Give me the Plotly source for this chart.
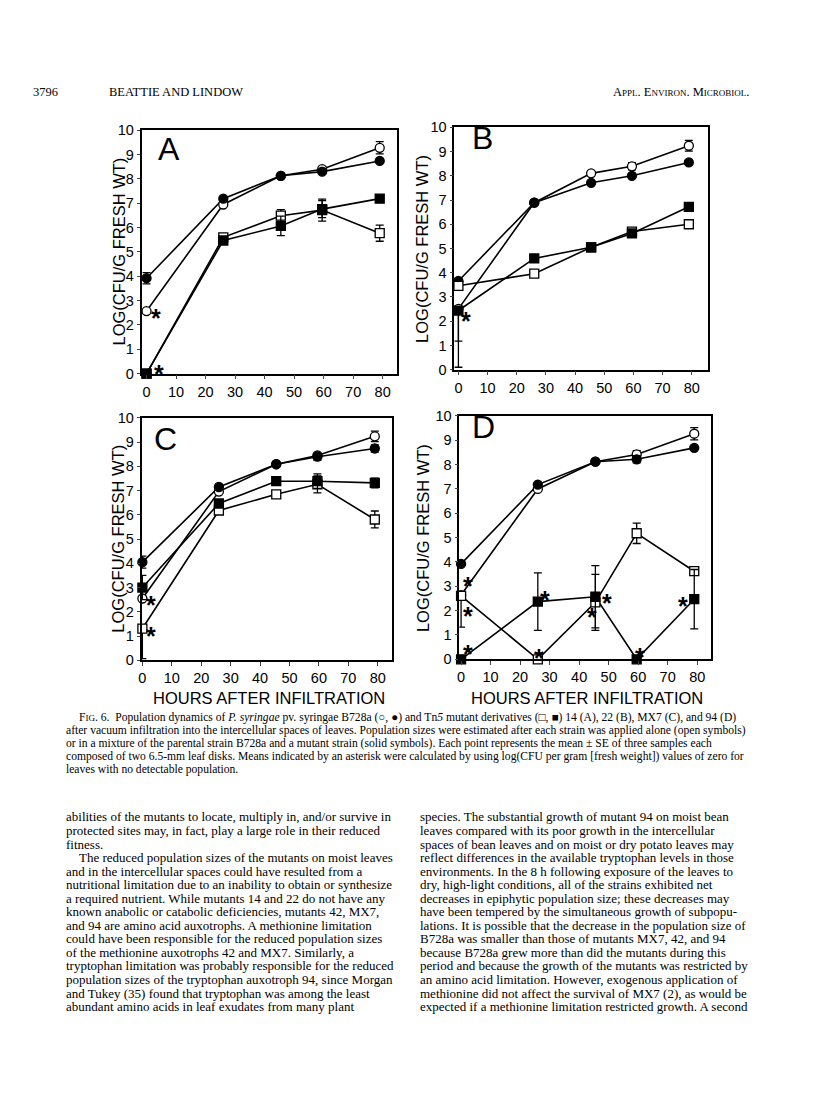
import plotly.graph_objects as go

PAGE_W, PAGE_H = 816, 1093
BODY_MARGIN = 8  # browser default body margin around the plot div
W, H = PAGE_W - 2 * BODY_MARGIN, PAGE_H - 2 * BODY_MARGIN

# ---------------- data ----------------
hours = [0, 26, 45.5, 59.5, 79]
x_ticks = [0, 10, 20, 30, 40, 50, 60, 70, 80]
y_ticks = [0, 1, 2, 3, 4, 5, 6, 7, 8, 9, 10]
panel_letters = ["A", "B", "C", "D"]

# Panel A (mutant 14)
A_b728a_alone = [2.57, 6.95, 8.13, 8.40, 9.28]
A_b728a_mixed = [3.92, 7.19, 8.13, 8.30, 8.74]
A_mutant_alone = [0.0, 5.60, 6.49, 6.72, 5.77]
A_mutant_mixed = [0.0, 5.47, 6.07, 6.76, 7.19]
A_err_b728a_alone = [0, 0, 0, 0.10, 0.25]
A_err_b728a_mixed = [0.23, 0, 0, 0, 0]
A_err_mutant_alone = [0, 0, 0.25, 0.45, 0.33]
A_err_mutant_mixed = [0, 0, 0.40, 0.35, 0]

# Panel B (mutant 22)
B_b728a_alone = [2.51, 6.89, 8.10, 8.39, 9.24]
B_b728a_mixed = [3.66, 6.89, 7.71, 8.00, 8.55]
B_mutant_alone = [3.46, 3.96, 5.05, 5.70, 6.00]
B_mutant_mixed = [2.44, 4.59, 5.05, 5.62, 6.72]
B_err_b728a_alone = [0, 0, 0, 0.15, 0.22]
B_errdn_b728a_alone = [1.33, 0, 0, 0.15, 0.22]
B_err_b728a_mixed = [0, 0, 0, 0, 0]
B_err_mutant_alone = [0, 0, 0, 0, 0]
B_err_mutant_mixed = [0, 0, 0, 0, 0.15]
B_errdn_mutant_mixed = [2.34, 0, 0, 0, 0.15]

# Panel C (mutant MX7)
C_b728a_alone = [2.55, 6.96, 8.09, 8.45, 9.24]
C_b728a_mixed = [4.05, 7.15, 8.09, 8.40, 8.74]
C_mutant_alone = [1.31, 6.18, 6.85, 7.26, 5.81]
C_mutant_mixed = [3.00, 6.47, 7.39, 7.39, 7.32]
C_err_b728a_alone = [0, 0, 0, 0, 0.22]
C_err_b728a_mixed = [0.25, 0, 0, 0.15, 0.15]
C_err_mutant_alone = [0, 0, 0, 0.35, 0.35]
C_errdn_mutant_alone = [1.24, 0, 0, 0.35, 0.35]
C_err_mutant_mixed = [0.50, 0, 0, 0.30, 0.20]

# Panel D (mutant 94)
D_b728a_alone = [2.64, 7.00, 8.12, 8.42, 9.27]
D_b728a_mixed = [3.92, 7.18, 8.12, 8.22, 8.69]
D_mutant_alone = [2.61, 0.0, 2.34, 5.18, 3.62]
D_mutant_mixed = [0.0, 2.37, 2.57, 0.0, 2.47]
D_err_b728a_alone = [0, 0, 0, 0.15, 0.25]
D_err_b728a_mixed = [0, 0, 0, 0.15, 0]
D_err_mutant_alone = [0, 0, 1.15, 0.42, 0]
D_errdn_mutant_alone = [1.29, 0, 1.15, 0.42, 0]
D_err_mutant_mixed = [0, 1.18, 1.28, 0, 1.22]

# Means computed with zero values (asterisks): (series, point index)
A_stars = [("b728a_alone", 0), ("mutant_mixed", 0)]
B_stars = [("mutant_mixed", 0)]
C_stars = [("b728a_alone", 0), ("mutant_alone", 0)]
D_stars = [("b728a_alone", 0), ("mutant_alone", 0), ("mutant_mixed", 0),
           ("mutant_mixed", 1), ("mutant_alone", 1), ("mutant_alone", 2),
           ("mutant_mixed", 2), ("mutant_mixed", 3), ("mutant_mixed", 4)]

y_title = "LOG(CFU/G FRESH WT)"
x_title = "HOURS AFTER INFILTRATION"

header_left_num = "3796"
header_left = "BEATTIE AND LINDOW"
header_right = ("A<span style='font-size:9px'>PPL</span>. E<span style='font-size:9px'>NVIRON</span>. "
                "M<span style='font-size:9px'>ICROBIOL</span>.")

caption_lines = [
    "F<span style='font-size:9px'>IG</span>. 6.  Population dynamics of <i>P. syringae</i> pv. syringae B728a (○, ●) and Tn<i>5</i> mutant derivatives (□, ■) 14 (A), 22 (B), MX7 (C), and 94 (D)",
    "after vacuum infiltration into the intercellular spaces of leaves. Population sizes were estimated after each strain was applied alone (open symbols)",
    "or in a mixture of the parental strain B728a and a mutant strain (solid symbols). Each point represents the mean ± SE of three samples each",
    "composed of two 6.5-mm leaf disks. Means indicated by an asterisk were calculated by using log(CFU per gram [fresh weight]) values of zero for",
    "leaves with no detectable population.",
]

left_col = [
    "abilities of the mutants to locate, multiply in, and/or survive in",
    "protected sites may, in fact, play a large role in their reduced",
    "fitness.",
    "The reduced population sizes of the mutants on moist leaves",
    "and in the intercellular spaces could have resulted from a",
    "nutritional limitation due to an inability to obtain or synthesize",
    "a required nutrient. While mutants 14 and 22 do not have any",
    "known anabolic or catabolic deficiencies, mutants 42, MX7,",
    "and 94 are amino acid auxotrophs. A methionine limitation",
    "could have been responsible for the reduced population sizes",
    "of the methionine auxotrophs 42 and MX7. Similarly, a",
    "tryptophan limitation was probably responsible for the reduced",
    "population sizes of the tryptophan auxotroph 94, since Morgan",
    "and Tukey (35) found that tryptophan was among the least",
    "abundant amino acids in leaf exudates from many plant",
]
right_col = [
    "species. The substantial growth of mutant 94 on moist bean",
    "leaves compared with its poor growth in the intercellular",
    "spaces of bean leaves and on moist or dry potato leaves may",
    "reflect differences in the available tryptophan levels in those",
    "environments. In the 8 h following exposure of the leaves to",
    "dry, high-light conditions, all of the strains exhibited net",
    "decreases in epiphytic population size; these decreases may",
    "have been tempered by the simultaneous growth of subpopu-",
    "lations. It is possible that the decrease in the population size of",
    "B728a was smaller than those of mutants MX7, 42, and 94",
    "because B728a grew more than did the mutants during this",
    "period and because the growth of the mutants was restricted by",
    "an amino acid limitation. However, exogenous application of",
    "methionine did not affect the survival of MX7 (2), as would be",
    "expected if a methionine limitation restricted growth. A second",
]

# ---------------- layout helpers (styling only) ----------------
def px(x):
    return (x - BODY_MARGIN) / W

def py(y):
    return 1 - (y - BODY_MARGIN) / H

# plot-area boxes in page pixels: left, right, top(y=10), bottom(y=0), x-range
boxes = {
    "A": dict(l=139, r=395, t=124, b=371, xr=[-1.7, 84.7], letter=(167, 143)),
    "B": dict(l=453, r=708, t=121, b=367, xr=[-1.4, 85.7], letter=(481, 132)),
    "C": dict(l=139, r=390, t=416, b=662, xr=[-0.3, 84.7], letter=(163, 437)),
    "D": dict(l=458, r=711, t=414, b=661, xr=[-0.6, 84.8], letter=(482, 425)),
}
ytitle_x = {"A": 116, "B": 421, "C": 116, "D": 421}

# star offsets in px (dx, dy) per panel, in order of the star lists
star_offsets = {
    "A": [(9, 0), (12, 7)],
    "B": [(8, -3)],
    "C": [(9, 0), (9, 0)],
    "D": [(7, 16), (7, -13), (7, 12), (7, 9), (1, 8), (-3, -8), (12, 1), (3, 9), (-11, 0)],
}

g = globals()
series_keys = ["b728a_alone", "b728a_mixed", "mutant_alone", "mutant_mixed"]
marker_style = {
    "b728a_alone": dict(symbol="circle", color="white"),
    "b728a_mixed": dict(symbol="circle", color="black"),
    "mutant_alone": dict(symbol="square", color="white"),
    "mutant_mixed": dict(symbol="square", color="black"),
}
stars_by_panel = {"A": A_stars, "B": B_stars, "C": C_stars, "D": D_stars}

fig = go.Figure()
annotations = []
layout = {}
SANS = "Liberation Sans, Arial"
TICKFONT = dict(family=SANS, size=14.5, color="black")

for i, p in enumerate(panel_letters):
    b = boxes[p]
    xa = "x" if i == 0 else f"x{i+1}"
    ya = "y" if i == 0 else f"y{i+1}"
    xkey = "xaxis" if i == 0 else f"xaxis{i+1}"
    ykey = "yaxis" if i == 0 else f"yaxis{i+1}"
    layout[xkey] = dict(domain=[px(b["l"]), px(b["r"])], range=b["xr"], anchor=ya,
                        tickvals=x_ticks, ticks="outside", ticklen=4, tickwidth=1.3,
                        showline=True, linewidth=1.6, linecolor="black", mirror=True,
                        showgrid=False, zeroline=False, tickfont=TICKFONT)
    layout[ykey] = dict(domain=[py(b["b"]), py(b["t"])], range=[0, 10], anchor=xa,
                        tickvals=y_ticks, ticks="outside", ticklen=3, tickwidth=1.3,
                        showline=True, linewidth=1.6, linecolor="black", mirror=True,
                        showgrid=False, zeroline=False, tickfont=TICKFONT)
    # lines first
    for k in series_keys:
        yv = g[f"{p}_{k}"]
        fig.add_trace(go.Scatter(x=hours, y=yv, xaxis=xa, yaxis=ya, mode="lines",
                                 line=dict(color="black", width=1.6),
                                 showlegend=False, hoverinfo="skip", cliponaxis=False))
    # markers with error bars
    for k in series_keys:
        yv = g[f"{p}_{k}"]
        eu = g[f"{p}_err_{k}"]
        ed = g.get(f"{p}_errdn_{k}", eu)
        ms = marker_style[k]
        fig.add_trace(go.Scatter(
            x=hours, y=yv, xaxis=xa, yaxis=ya, mode="markers", name=f"{p} {k}",
            marker=dict(symbol=ms["symbol"], size=9, color=ms["color"],
                        line=dict(color="black", width=1.3)),
            error_y=dict(type="data", symmetric=False, array=eu, arrayminus=ed,
                         color="black", thickness=1.3, width=4),
            showlegend=False, cliponaxis=False))
    # asterisks
    for (k, idx), (dx, dy) in zip(stars_by_panel[p], star_offsets[p]):
        annotations.append(dict(x=hours[idx], y=g[f"{p}_{k}"][idx], xref=xa, yref=ya,
                                xanchor="center", yanchor="middle",
                                text="<b>*</b>", showarrow=False, xshift=dx, yshift=dy - 7,
                                font=dict(family=SANS, size=25, color="black")))
    # panel letter
    lx, ly = b["letter"]
    annotations.append(dict(x=px(lx), y=py(ly), xref="paper", yref="paper", text=p,
                            xanchor="center", yanchor="middle",
                            showarrow=False, font=dict(family=SANS, size=32, color="black")))
    # y title
    annotations.append(dict(x=px(ytitle_x[p]), y=py((b["t"] + b["b"]) / 2), xref="paper", yref="paper",
                            xanchor="center", yanchor="middle",
                            text=y_title, textangle=-90, showarrow=False,
                            font=dict(family=SANS, size=16.5, color="black")))

# x titles
for cx in (267, 586):
    annotations.append(dict(x=px(cx), y=py(700), xref="paper", yref="paper", text=x_title,
                            xanchor="center", yanchor="middle",
                            showarrow=False, font=dict(family=SANS, size=16.5, color="black")))

SERIF = "Liberation Serif, Times New Roman, serif"
# header
annotations.append(dict(x=px(28), y=py(85), xref="paper", yref="paper", xanchor="left", yanchor="middle",
                        text=header_left_num, showarrow=False, font=dict(family=SERIF, size=12.5, color="black")))
annotations.append(dict(x=px(104), y=py(85), xref="paper", yref="paper", xanchor="left", yanchor="middle",
                        text=header_left, showarrow=False, font=dict(family=SERIF, size=12.5, color="black")))
annotations.append(dict(x=px(751), y=py(85), xref="paper", yref="paper", xanchor="right", yanchor="middle",
                        text=header_right, showarrow=False, font=dict(family=SERIF, size=12.5, color="black")))

# caption
for j, line in enumerate(caption_lines):
    annotations.append(dict(x=px(74 if j == 0 else 61), y=py(720 + 13.2 * j), xref="paper", yref="paper",
                            xanchor="left", yanchor="middle", text=line, showarrow=False,
                            font=dict(family=SERIF, size=11.6, color="black")))

# body columns
for j, line in enumerate(left_col):
    annotations.append(dict(x=px(74 if j == 3 else 61), y=py(821 + 13.75 * j), xref="paper", yref="paper",
                            xanchor="left", yanchor="middle", text=line, showarrow=False,
                            font=dict(family=SERIF, size=13, color="black")))
for j, line in enumerate(right_col):
    annotations.append(dict(x=px(417), y=py(821 + 13.75 * j), xref="paper", yref="paper",
                            xanchor="left", yanchor="middle", text=line, showarrow=False,
                            font=dict(family=SERIF, size=13, color="black")))

fig.update_layout(width=W, height=H, margin=dict(l=0, r=0, t=0, b=0),
                  paper_bgcolor="white", plot_bgcolor="white",
                  annotations=annotations, showlegend=False, **layout)

fig.write_html("out.html")
